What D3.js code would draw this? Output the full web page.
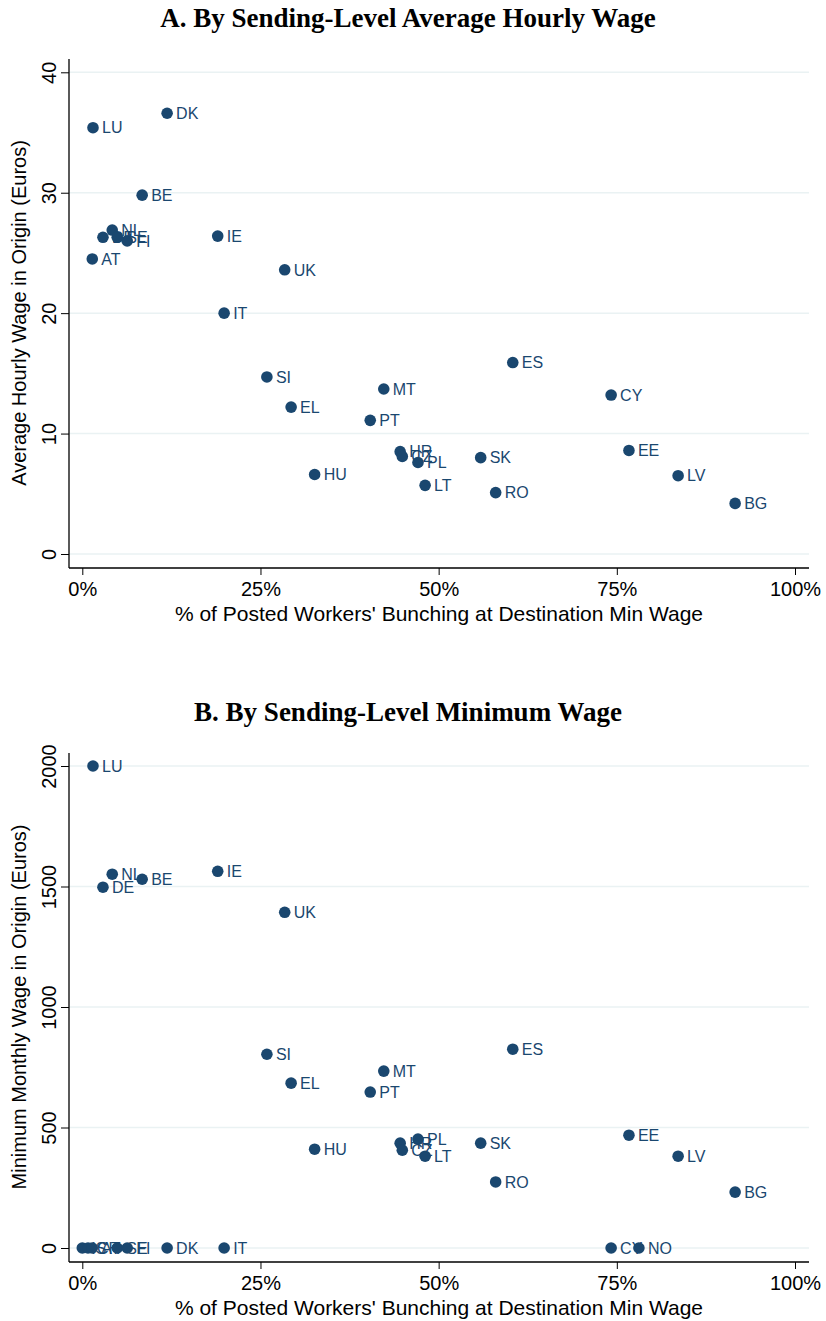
<!DOCTYPE html>
<html>
<head>
<meta charset="utf-8">
<script src="https://cdn.jsdelivr.net/npm/d3@7"></script>
<style>
  body { margin: 0; background: #fff; }
  .title { font-family: "Liberation Serif", "DejaVu Serif", serif; font-weight: bold; font-size: 27px; }
  .tick text, .axtitle { font-family: "Liberation Sans", Arial, sans-serif; }
  .lab { font-family: "Liberation Sans", Arial, sans-serif; font-size: 16px; fill: #1a476f; }
</style>
</head>
<body>
<div id="chart"></div>
<script>
// countries and the share bunching at destination min wage (%)
var countries = ["LU","DK","BE","NL","DE","SE","FI","AT","IE","UK","IT","SI","EL","MT","PT","ES","CY","HR","CZ","PL","SK","HU","LT","RO","EE","LV","BG"];
var bunching  = [1.5, 11.9, 8.4, 4.2, 2.9, 4.9, 6.3, 1.4, 19.0, 28.4, 19.9, 25.9, 29.3, 42.3, 40.4, 60.4, 74.2, 44.6, 44.9, 47.1, 55.9, 32.6, 48.1, 58.0, 76.7, 83.6, 91.6];
var hourlyWage = [35.4, 36.6, 29.8, 26.9, 26.3, 26.3, 26.0, 24.5, 26.4, 23.6, 20.0, 14.7, 12.2, 13.7, 11.1, 15.9, 13.2, 8.5, 8.1, 7.6, 8.0, 6.6, 5.7, 5.1, 8.6, 6.5, 4.2];

// panel B: monthly minimum wage (0 = no statutory min wage)
var countriesB = ["LU","NL","DE","BE","IE","UK","SI","EL","MT","PT","ES","PL","HR","CZ","SK","HU","LT","RO","EE","LV","BG","IS","CH","AT","SE","FI","DK","IT","CY","NO"];
var bunchingB  = [1.5, 4.2, 2.9, 8.4, 19.0, 28.4, 25.9, 29.3, 42.3, 40.4, 60.4, 47.1, 44.6, 44.9, 55.9, 32.6, 48.1, 58.0, 76.7, 83.6, 91.6, 0.0, 0.8, 1.4, 4.9, 6.3, 11.9, 19.9, 74.2, 78.1];
var minWage    = [2000, 1551, 1497, 1530, 1563, 1393, 804, 684, 734, 647, 825, 452, 435, 406, 435, 410, 381, 274, 468, 381, 232, 0, 0, 0, 0, 0, 0, 0, 0, 0];

var xTicks = [0, 25, 50, 75, 100];
var yTicksA = [0, 10, 20, 30, 40];
var yTicksB = [0, 500, 1000, 1500, 2000];

var W = 826, H = 1321;
var navy = "#1a476f";

var svg = d3.select("#chart").append("svg")
    .attr("width", W)
    .attr("height", H);

function panel(top, title, ytitle, xs, ys, names, yDomain, yTicks, yRange) {
  var g = svg.append("g").attr("transform", `translate(0, ${top})`);

  g.append("text")
    .attr("class", "title")
    .attr("x", 408).attr("y", 27)
    .attr("text-anchor", "middle")
    .text(title);

  var x = d3.scaleLinear().domain([0, 100]).range([82.3, 795]);
  var y = d3.scaleLinear().domain(yDomain).range(yRange);

  // gridlines
  g.append("g")
    .selectAll("line")
    .data(yTicks)
    .join("line")
      .attr("x1", 69).attr("x2", 809)
      .attr("y1", d => y(d)).attr("y2", d => y(d))
      .style("stroke", "#eaf2f3")
      .style("stroke-width", 1.5);

  // x axis
  var xa = g.append("g")
    .attr("transform", "translate(0, 568)")
    .call(d3.axisBottom(x).tickValues(xTicks).tickFormat(d => d + "%").tickSize(7).tickSizeOuter(0));
  xa.select(".domain").attr("d", "M69,0H809").style("stroke", "#000").style("stroke-width", 1.3);
  xa.selectAll(".tick text").style("font-size", "20px").attr("dy", "0.9em").attr("fill", "#000");

  // y axis
  var ya = g.append("g")
    .attr("transform", "translate(69, 0)")
    .call(d3.axisLeft(y).tickValues(yTicks).tickFormat(d3.format("d")).tickSize(8).tickSizeOuter(0));
  ya.select(".domain").attr("d", "M0,59V568").style("stroke", "#000").style("stroke-width", 1.3);
  ya.selectAll(".tick text")
    .style("font-size", "20px")
    .attr("fill", "#000")
    .attr("text-anchor", "middle")
    .attr("x", 0).attr("dy", 0)
    .attr("transform", "translate(-13, 0) rotate(-90)");

  g.append("text")
    .attr("class", "axtitle")
    .attr("x", 439).attr("y", 621)
    .attr("text-anchor", "middle")
    .style("font-size", "21px")
    .text("% of Posted Workers' Bunching at Destination Min Wage");

  g.append("text")
    .attr("class", "axtitle")
    .attr("transform", "translate(26, 313) rotate(-90)")
    .attr("text-anchor", "middle")
    .style("font-size", "20px")
    .text(ytitle);

  var pts = g.append("g").selectAll("g")
    .data(names.map((n, i) => ({name: n, px: xs[i], py: ys[i]})))
    .join("g");

  pts.append("circle")
    .attr("cx", d => x(d.px))
    .attr("cy", d => y(d.py))
    .attr("r", 5.8)
    .style("fill", navy);

  pts.append("text")
    .attr("class", "lab")
    .attr("x", d => x(d.px) + 9)
    .attr("y", d => y(d.py))
    .attr("dy", "0.36em")
    .text(d => d.name);
}

panel(0, "A. By Sending-Level Average Hourly Wage", "Average Hourly Wage in Origin (Euros)",
  bunching, hourlyWage, countries, [0, 40], yTicksA, [554, 72.3]);

panel(694, "B. By Sending-Level Minimum Wage", "Minimum Monthly Wage in Origin (Euros)",
  bunchingB, minWage, countriesB, [0, 2000], yTicksB, [554, 72]);
</script>
</body>
</html>
